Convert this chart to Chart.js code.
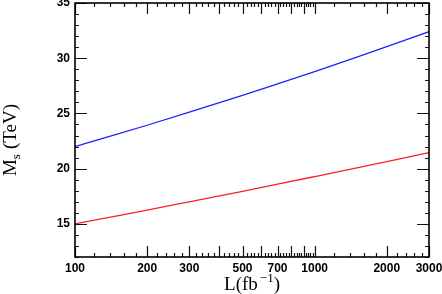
<!DOCTYPE html>
<html>
<head>
<meta charset="utf-8">
<script src="https://cdn.jsdelivr.net/npm/chart.js@4"></script>
<style>
  html, body { margin: 0; padding: 0; background: #fff; }
  #wrap { width: 442px; height: 294px; }
</style>
</head>
<body>
<div id="wrap"><canvas id="msChart" width="442" height="294"></canvas></div>
<script>
// luminosity points (fb^-1) and the two reach curves (TeV)
const lumi = [100, 150, 200, 300, 500, 700, 1000, 1500, 2000, 3000];
const msBlue = [22.0, 23.12, 23.93, 25.11, 26.63, 27.67, 28.79, 30.09, 31.04, 32.4];
const msRed = [15.0, 15.73, 16.25, 17.0, 17.95, 18.59, 19.28, 20.07, 20.64, 21.45];

const xTickLabels = [100, 200, 300, 500, 700, 1000, 2000, 3000];
const yTickLabels = [15, 20, 25, 30, 35];

const tickFont = { family: 'Liberation Sans', size: 12, weight: 'bold' };

// inside tick marks on all four sides + frame + axis titles
const framePlugin = {
    id: 'frame',
    afterDraw(chart) {
        const ctx = chart.ctx;
        const area = chart.chartArea;
        const xs = chart.scales.x;
        const ys = chart.scales.y;
        ctx.save();
        ctx.strokeStyle = '#111';

        // x ticks: minor every 20 up to 1000, every 200 above; major every 100 / 1000
        ctx.lineWidth = 1.2;
        for (let v = 100; v <= 3000; v += (v < 1000 ? 20 : 200)) {
            const major = v < 1000 ? v % 100 === 0 : v % 1000 === 0;
            const len = major ? 11 : 4;
            const px = Math.round(xs.getPixelForValue(v)) + 0.5;
            ctx.beginPath();
            ctx.moveTo(px, area.bottom);
            ctx.lineTo(px, area.bottom - len);
            ctx.moveTo(px, area.top);
            ctx.lineTo(px, area.top + len);
            ctx.stroke();
        }
        // y ticks: minor every 1, major every 5
        for (let v = 12; v <= 35; v++) {
            const len = v % 5 === 0 ? 12 : 4;
            const py = Math.round(ys.getPixelForValue(v)) + 0.5;
            ctx.beginPath();
            ctx.moveTo(area.left, py);
            ctx.lineTo(area.left + len, py);
            ctx.moveTo(area.right, py);
            ctx.lineTo(area.right - len, py);
            ctx.stroke();
        }

        ctx.lineWidth = 1.6;
        ctx.strokeStyle = '#000';
        ctx.strokeRect(area.left, area.top, area.right - area.left, area.bottom - area.top);

        // x title: L(fb^-1)
        ctx.fillStyle = '#000';
        ctx.textBaseline = 'alphabetic';
        const big = '19px "Liberation Serif"';
        const small = '13px "Liberation Serif"';
        const parts = [['L(fb', big, 0, 2], ['\u22121', small, -8, 0], [')', big, 0, 0]];
        let w = 0;
        parts.forEach(p => { ctx.font = p[1]; w += ctx.measureText(p[0]).width + p[3]; });
        let x = (area.left + area.right) / 2 - w / 2;
        parts.forEach(p => {
            ctx.font = p[1];
            ctx.fillText(p[0], x, 290 + p[2]);
            x += ctx.measureText(p[0]).width + p[3];
        });

        // y title: M_s (TeV)
        ctx.translate(16, 140);
        ctx.rotate(-Math.PI / 2);
        const yparts = [['M', big, 0, 0], ['s', small, 4, 5], ['(TeV)', big, 0, 0]];
        w = 0;
        yparts.forEach(p => { ctx.font = p[1]; w += ctx.measureText(p[0]).width + p[3]; });
        x = -w / 2;
        yparts.forEach(p => {
            ctx.font = p[1];
            ctx.fillText(p[0], x, p[2]);
            x += ctx.measureText(p[0]).width + p[3];
        });
        ctx.restore();
    },
};

const ctx = document.getElementById('msChart').getContext('2d');
new Chart(ctx, {
    type: 'line',
    data: {
        labels: lumi,
        datasets: [
            {
                label: 'blue',
                data: lumi.map((l, i) => ({ x: l, y: msBlue[i] })),
                borderColor: '#1f1fff',
                borderWidth: 1.3,
                pointRadius: 0,
                cubicInterpolationMode: 'monotone',
                fill: false,
            },
            {
                label: 'red',
                data: lumi.map((l, i) => ({ x: l, y: msRed[i] })),
                borderColor: '#ff1f1f',
                borderWidth: 1.3,
                pointRadius: 0,
                cubicInterpolationMode: 'monotone',
                fill: false,
            },
        ],
    },
    options: {
        responsive: false,
        animation: false,
        layout: { padding: { top: 3, right: 13, left: 0, bottom: 0 } },
        plugins: {
            legend: { display: false },
            tooltip: { enabled: false },
        },
        scales: {
            x: {
                type: 'logarithmic',
                min: 100,
                max: 3000,
                grid: { display: false, drawTicks: false },
                border: { display: false },
                ticks: {
                    autoSkip: false,
                    maxRotation: 0,
                    padding: 4,
                    color: '#000',
                    font: tickFont,
                    callback: (v) => String(v),
                },
                afterBuildTicks: (scale) => {
                    scale.ticks = xTickLabels.map((v) => ({ value: v }));
                },
                afterFit: (scale) => {
                    scale.height = 37;
                    scale.paddingLeft = 0;
                    scale.paddingRight = 0;
                },
            },
            y: {
                type: 'linear',
                min: 12,
                max: 35,
                grid: { display: false, drawTicks: false },
                border: { display: false },
                ticks: {
                    padding: 5,
                    color: '#000',
                    font: tickFont,
                },
                afterBuildTicks: (scale) => {
                    scale.ticks = yTickLabels.map((v) => ({ value: v }));
                },
                afterFit: (scale) => {
                    scale.width = 75;
                    scale.paddingTop = 0;
                    scale.paddingBottom = 0;
                },
            },
        },
    },
    plugins: [framePlugin],
});
</script>
</body>
</html>
